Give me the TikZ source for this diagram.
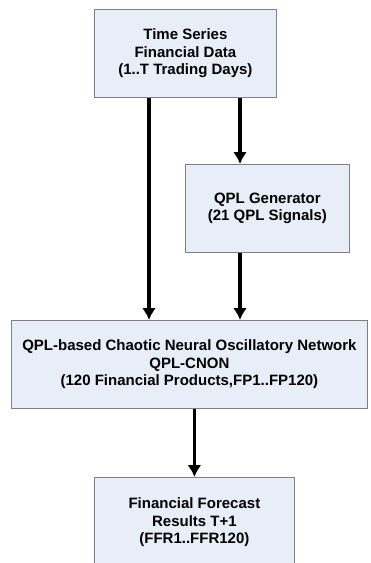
\documentclass[tikz,border=0pt]{standalone}
\usepackage{fontspec}
\setmainfont{Liberation Sans}
\usepackage{tikz}
\usetikzlibrary{arrows.meta}
\usetikzlibrary{positioning}

\definecolor{boxfill}{HTML}{E8EEF7}
\definecolor{boxline}{HTML}{7F7F7F}
\tikzset{flowbox/.style={rectangle, draw=boxline, line width=0.8pt, fill=boxfill, align=center, inner sep=0pt, anchor=north west, font=\fontsize{15}{17.5}\selectfont\bfseries}}

\begin{document}
\begin{tikzpicture}[x=1pt, y=1pt]

\newcommand\bh{88pt}

\clip (0,0) rectangle (370,-563);

\node at (94,-9) [flowbox, minimum width = 182pt, minimum height = \bh] (data) {Time Series\\ Financial Data\\ (1..T Trading Days)};
\node at (185,-164) [flowbox, minimum width = 164pt, minimum height = \bh] (gen) {QPL Generator\\ (21 QPL Signals)};
\node at (11,-320) [flowbox, minimum width = 356pt, minimum height = \bh] (cnon) {QPL-based Chaotic Neural Oscillatory Network\\ QPL-CNON\\ (120 Financial Products,FP1..FP120)};
\node at (94,-477) [flowbox, minimum width = 200pt, minimum height = 90pt] (res) {Financial Forecast\\ Results T+1\\ (FFR1..FFR120)};

\coordinate (lft) at (149,0);
\coordinate (rgt) at (240,0);

\begin{scope}[>={Latex[length=12pt, width=14pt]}, line width=3.2pt]
	\draw [black, ->] (data.south -| lft) -- (cnon.north -| lft);
	\draw [black, ->] (data.south -| rgt) -- (gen.north -| rgt);
	\draw [black, ->] (gen.south -| rgt) -- (cnon.north -| rgt);
	\draw [black, ->] (cnon.south -| res.north) -- (res.north);
\end{scope}

\end{tikzpicture}
\end{document}
